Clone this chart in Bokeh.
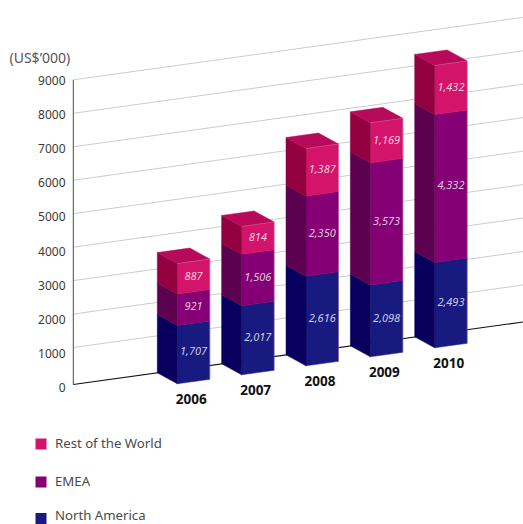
from bokeh.core.properties import value
from bokeh.embed import file_html
from bokeh.models import ColumnDataSource, Range1d
from bokeh.plotting import figure
from bokeh.resources import INLINE

years = ["2006", "2007", "2008", "2009", "2010"]
north_america = [1707, 2017, 2616, 2098, 2493]
emea = [921, 1506, 2350, 3573, 4332]
rest_of_world = [887, 814, 1387, 1169, 1432]
value_labels = {
    "North America": ["1,707", "2,017", "2,616", "2,098", "2,493"],
    "EMEA": ["921", "1,506", "2,350", "3,573", "4,332"],
    "Rest of the World": ["887", "814", "1,387", "1,169", "1,432"],
}
grid_ticks = [1000, 2000, 3000, 4000, 5000, 6000, 7000, 8000, 9000]
axis_labels = [0, 1000, 2000, 3000, 4000, 5000, 6000, 7000, 8000, 9000]

FONT = value("Noto Sans")
W, H = 523, 524

# Oblique projection: each category steps along the floor, each bar has a
# front-face width vector and a depth vector pointing up and to the left.
PX_PER_UNIT = 0.0342
STEP = (64.35, -9.0)
ORIGIN = (176.8, 383.3)
WIDTH_VEC = (32.5, -4.5)
DEPTH_VEC = (-20.0, -11.0)
SLOPE = -0.139

# front, side, top shades of each stacked series
shades = {
    "North America": ("#191a80", "#08005c", "#191a80"),
    "EMEA": ("#850075", "#5c0050", "#850075"),
    "Rest of the World": ("#d4146a", "#93003f", "#b70a5a"),
}
series = [("North America", north_america), ("EMEA", emea), ("Rest of the World", rest_of_world)]


def corner(i, v, across=0.0, deep=0.0):
    x = ORIGIN[0] + STEP[0] * i + WIDTH_VEC[0] * across + DEPTH_VEC[0] * deep
    y = ORIGIN[1] + STEP[1] * i + WIDTH_VEC[1] * across + DEPTH_VEC[1] * deep - PX_PER_UNIT * v
    return x, y


def face(*points):
    return [p[0] for p in points], [p[1] for p in points]


p = figure(width=W, height=H, x_range=Range1d(0, W), y_range=Range1d(H, 0),
           output_backend="svg", toolbar_location=None, min_border=0,
           outline_line_color=None, background_fill_color="white")
p.xaxis.visible = False
p.yaxis.visible = False
p.grid.visible = False

# Back wall gridlines and the vertical axis
GRID_ZERO = 380.5
GRID_SCALE = 0.03346
AXIS_X = 72.8
p.segment([AXIS_X] * len(grid_ticks), [GRID_ZERO - GRID_SCALE * t for t in grid_ticks],
          [W] * len(grid_ticks), [GRID_ZERO - GRID_SCALE * t + SLOPE * (W - AXIS_X) for t in grid_ticks],
          line_color="#cccccc", line_width=1)
p.segment([AXIS_X], [GRID_ZERO - GRID_SCALE * max(grid_ticks)], [AXIS_X], [384],
          line_color="#4a4a4a", line_width=1)
p.segment([AXIS_X], [384], [W], [384 + SLOPE * (W - AXIS_X)], line_color="#111111", line_width=1.1)

# Stacked boxes, drawn bottom-up so that each sits on the one below it
for i in range(len(years)):
    base = 0
    for name, vals in series:
        top = base + vals[i]
        front, side, lid = shades[name]
        xs, ys = face(corner(i, base), corner(i, base, across=1), corner(i, top, across=1), corner(i, top))
        p.patch(xs, ys, fill_color=front, line_color=front, line_width=0.5)
        xs, ys = face(corner(i, base), corner(i, top), corner(i, top, deep=1), corner(i, base, deep=1))
        p.patch(xs, ys, fill_color=side, line_color=side, line_width=0.5)
        base = top
    xs, ys = face(corner(i, base), corner(i, base, across=1),
                  corner(i, base, across=1, deep=1), corner(i, base, deep=1))
    p.patch(xs, ys, fill_color=lid, line_color=lid, line_width=0.5)
    # Faint highlight along the top and right edges of the front face
    a, b, c = corner(i, base), corner(i, base, across=1), corner(i, 0, across=1)
    p.line([a[0], b[0], c[0]], [a[1], b[1], c[1]], line_color="#e8a0c8", line_width=0.6, line_alpha=0.55)

# Value labels on the front faces
lx, ly, lt = [], [], []
for i in range(len(years)):
    base = 0
    for name, vals in series:
        x, y = corner(i, base + vals[i] / 2, across=0.5)
        lx.append(x)
        ly.append(y - 1.0)
        lt.append(value_labels[name][i])
        base += vals[i]
p.text(x="x", y="y", text="t", source=ColumnDataSource(dict(x=lx, y=ly, t=lt)),
       text_font=FONT, text_font_size="11px", text_font_style="italic",
       text_color="#ffffff", text_alpha=0.78, text_align="center", text_baseline="middle")

# Category labels under the bars
cx = [corner(i, 0)[0] + 14 for i in range(len(years))]
cy = [corner(i, 0)[1] + 15 for i in range(len(years))]
p.text(x=cx, y=cy, text=years, text_font=FONT, text_font_size="13.5px", text_font_style="bold",
       text_color="#111111", text_align="center", text_baseline="middle")

# Value axis labels
p.text(x=[65] * len(axis_labels), y=[387.3 - 0.0342 * t for t in axis_labels],
       text=[str(t) for t in axis_labels], text_font=FONT, text_font_size="12px",
       text_color="#3a3a3a", text_align="right", text_baseline="middle")
p.text(x=[9], y=[56.5], text=["(US$\u2019000)"], text_font=FONT, text_font_size="14px",
       text_color="#555555", text_align="left", text_baseline="middle")

# Legend
legend_names = ["Rest of the World", "EMEA", "North America"]
legend_y = [443.5, 481.5, 518.0]
legend_text_y = [442.5, 480.5, 514.8]
p.rect(x=[40.5] * 3, y=legend_y, width=11, height=11, line_color=None,
       fill_color=[shades[n][0] for n in legend_names])
p.text(x=[54.5] * 3, y=legend_text_y, text=legend_names, text_font=FONT,
       text_font_size="13.2px", text_color="#4a4a4a", text_align="left", text_baseline="middle")

open("out.html", "w").write(file_html(p, INLINE))
